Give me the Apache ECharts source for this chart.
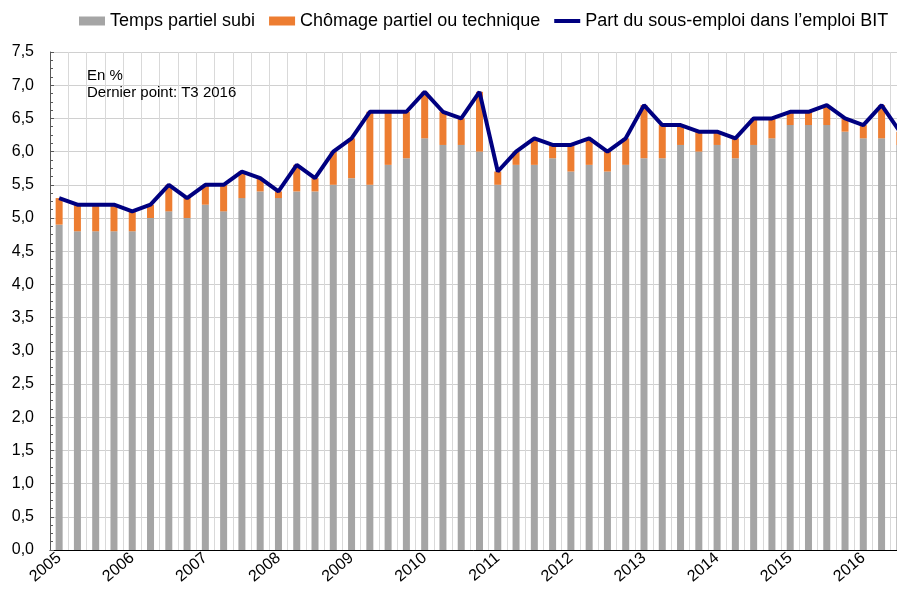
<!DOCTYPE html>
<html>
<head>
<meta charset="utf-8">
<script src="https://cdn.jsdelivr.net/npm/echarts@6/dist/echarts.min.js"></script>
<style>
  html, body { margin: 0; padding: 0; background: #fff; }
  #chart { width: 897px; height: 591px; }
</style>
</head>
<body>
<div id="chart"></div>
<script>
// trimestres T1 2005 -> T3 2016
var years = ['2005','2006','2007','2008','2009','2010','2011','2012','2013','2014','2015','2016'];
var quarters = [];
years.forEach(function (y) {
  ['T1','T2','T3','T4'].forEach(function (q) {
    if (!(y === '2016' && q === 'T4')) quarters.push(y + ' ' + q);
  });
});

var tempsPartiel = [
  4.9, 4.8, 4.8, 4.8, 4.8, 5.0, 5.1, 5.0,
  5.2, 5.1, 5.3, 5.4, 5.3, 5.4, 5.4, 5.5,
  5.6, 5.5, 5.8, 5.9, 6.2, 6.1, 6.1, 6.0,
  5.5, 5.8, 5.8, 5.9, 5.7, 5.8, 5.7, 5.8,
  5.9, 5.9, 6.1, 6.0, 6.1, 5.9, 6.1, 6.2,
  6.4, 6.4, 6.4, 6.3, 6.2, 6.2, 6.1
];
var chomagePartiel = [
  0.4, 0.4, 0.4, 0.4, 0.3, 0.2, 0.4, 0.3,
  0.3, 0.4, 0.4, 0.2, 0.1, 0.4, 0.2, 0.5,
  0.6, 1.1, 0.8, 0.7, 0.7, 0.5, 0.4, 0.9,
  0.2, 0.2, 0.4, 0.2, 0.4, 0.4, 0.3, 0.4,
  0.8, 0.5, 0.3, 0.3, 0.2, 0.3, 0.4, 0.3,
  0.2, 0.2, 0.3, 0.2, 0.2, 0.5, 0.2
];
var sousEmploi = [
  5.3, 5.2, 5.2, 5.2, 5.1, 5.2, 5.5, 5.3,
  5.5, 5.5, 5.7, 5.6, 5.4, 5.8, 5.6, 6.0,
  6.2, 6.6, 6.6, 6.6, 6.9, 6.6, 6.5, 6.9,
  5.7, 6.0, 6.2, 6.1, 6.1, 6.2, 6.0, 6.2,
  6.7, 6.4, 6.4, 6.3, 6.3, 6.2, 6.5, 6.5,
  6.6, 6.6, 6.7, 6.5, 6.4, 6.7, 6.3
];
var yTicks = { min: 0, max: 7.5, step: 0.5 };

var FONT = '"Liberation Sans", Arial, sans-serif';
var chart = echarts.init(document.getElementById('chart'));

chart.setOption({
  animation: false,
  title: {
    text: 'En %\nDernier point: T3 2016',
    left: 82, top: 62,
    textStyle: { fontFamily: FONT, fontSize: 15, fontWeight: 'normal', color: '#000', lineHeight: 17 }
  },
  legend: {
    top: 7, left: 74,
    itemGap: 14, itemWidth: 26, itemHeight: 9,
    textStyle: { fontFamily: FONT, fontSize: 18, color: '#000' },
    data: [
      { name: 'Temps partiel subi', icon: 'rect' },
      { name: 'Chômage partiel ou technique', icon: 'rect' },
      { name: 'Part du sous-emploi dans l\u2019emploi BIT', icon: 'path://M0,0L26,0L26,4L0,4Z' }
    ]
  },
  // le dernier trimestre sort du cadre, comme sur l'original
  grid: { left: 50, top: 52, width: 859, bottom: 41, containLabel: false, outerBoundsMode: 'none' },
  xAxis: {
    type: 'category',
    data: quarters,
    boundaryGap: true,
    axisLine: { lineStyle: { color: '#000', width: 1 } },
    axisTick: { show: false },
    splitLine: { show: true, interval: 0, lineStyle: { color: '#d9d9d9', width: 1 } },
    axisLabel: {
      interval: function (i) { return i % 4 === 0; },
      formatter: function (v) { return v.slice(0, 4); },
      rotate: 40, margin: 6,
      fontFamily: FONT, fontSize: 16, color: '#000'
    }
  },
  yAxis: {
    type: 'value',
    min: yTicks.min, max: yTicks.max, interval: yTicks.step,
    axisLine: { show: true, lineStyle: { color: '#595959' } },
    axisTick: { show: true, inside: true, length: 4, lineStyle: { color: '#595959' } },
    minorTick: { show: true, splitNumber: 4, length: 3, lineStyle: { color: '#595959' } },
    splitLine: { show: true, lineStyle: { color: '#d0d0d0', width: 1 } },
    axisLabel: {
      margin: 16,
      fontFamily: FONT, fontSize: 16, color: '#000',
      formatter: function (v) { return v.toFixed(1).replace('.', ','); }
    }
  },
  series: [
    {
      name: 'Temps partiel subi', type: 'bar', stack: 'total',
      barWidth: 7, itemStyle: { color: '#a5a5a5' },
      data: tempsPartiel
    },
    {
      name: 'Chômage partiel ou technique', type: 'bar', stack: 'total',
      barWidth: 7, itemStyle: { color: '#ed7d31' },
      data: chomagePartiel
    },
    {
      name: 'Part du sous-emploi dans l\u2019emploi BIT', type: 'line',
      symbol: 'none', z: 5,
      lineStyle: { color: '#000080', width: 4 },
      itemStyle: { color: '#000080' },
      data: sousEmploi
    }
  ]
});
</script>
</body>
</html>
